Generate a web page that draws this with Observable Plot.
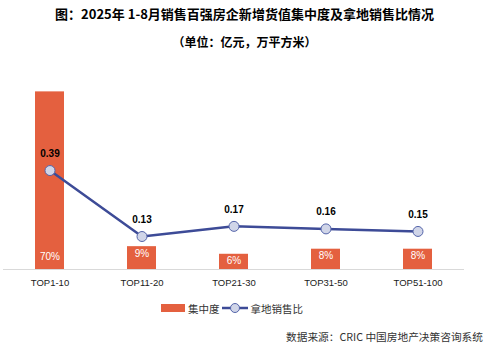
<!DOCTYPE html>
<html><head><meta charset="utf-8">
<script src="https://cdn.jsdelivr.net/npm/d3@7"></script>
<script src="https://cdn.jsdelivr.net/npm/@observablehq/plot@0.6"></script>
<style>
body{margin:0;background:#fff;width:489px;font-family:"Noto Sans CJK SC",sans-serif;}
.t1{height:28px;line-height:28px;text-align:center;font-weight:bold;font-size:13px;color:#000;}
.t2{height:28px;line-height:28px;text-align:center;font-weight:bold;font-size:12px;color:#000;}
#chart svg{display:block;}
.legend{height:26px;display:flex;align-items:center;padding-left:161px;font-size:10.5px;color:#333;}
.legend span{margin-right:2px;}
.src{height:32px;line-height:32px;text-align:right;padding-right:6px;font-size:10.7px;color:#333;}
</style></head>
<body>
<div class="t1">图：2025年 1-8月销售百强房企新增货值集中度及拿地销售比情况</div>
<div class="t2">（单位：亿元，万平方米）</div>
<div id="chart"></div>
<div class="legend">
<svg width="27" height="10"><rect x="0" y="1" width="24" height="8" fill="#E4603F"/></svg><span>集中度</span>
<svg width="29" height="12"><line x1="0" y1="6" x2="26" y2="6" stroke="#3D4B97" stroke-width="2.5"/><circle cx="13" cy="6" r="4.5" fill="#D0D5E8" stroke="#5565AA" stroke-width="1"/></svg><span>拿地销售比</span>
</div>
<div class="src">数据来源：CRIC 中国房地产决策咨询系统</div>
<script>
const categories = ["TOP1-10","TOP11-20","TOP21-30","TOP31-50","TOP51-100"];
const concentration = [70, 9, 6, 8, 8];          // 集中度 (%)
const landSalesRatio = [0.39, 0.13, 0.17, 0.16, 0.15]; // 拿地销售比
const barAxisMax = 80;     // primary axis max (%)
const lineAxisMax = 0.8;   // secondary axis max

const data = categories.map((c,i)=>({c, v: concentration[i], r: landSalesRatio[i]}));
const k = barAxisMax / lineAxisMax;
const fontLatin = "Liberation Sans, Arial, sans-serif";

const chart = Plot.plot({
  width: 489, height: 239,
  marginLeft: 3, marginRight: 25, marginTop: 10, marginBottom: 26,
  style: {fontFamily: fontLatin, background: "#fff"},
  x: {domain: categories, paddingInner: 0.686, paddingOuter: 0.343, label: null, tickSize: 0, tickPadding: 10},
  y: {domain: [0, barAxisMax], axis: null},
  marks: [
    Plot.barY(data, {x: "c", y: "v", fill: "#E4603F"}),
    Plot.ruleY([0], {stroke: "#D9D9D9", strokeWidth: 1}),
    Plot.axisX({tickSize: 0, tickPadding: 10, fontSize: 9.5, fill: "#1a1a1a", label: null}),
    Plot.text(data.filter(d => d.v > 20), {x: "c", y: 0, dy: -13, text: d => d.v + "%", fill: "#fff", fontSize: 10}),
    Plot.text(data.filter(d => d.v <= 20), {x: "c", y: "v", dy: 7, text: d => d.v + "%", fill: "#fff", fontSize: 10}),
    Plot.lineY(data, {x: "c", y: d => d.r * k, stroke: "#3D4B97", strokeWidth: 2.5}),
    Plot.dot(data, {x: "c", y: d => d.r * k, r: 5, fill: "#D0D5E8", stroke: "#5565AA", strokeWidth: 1}),
    Plot.text(data, {x: "c", y: d => d.r * k, dy: -17, text: d => d.r.toFixed(2), fill: "#000", fontSize: 10, fontWeight: "bold"})
  ]
});
document.getElementById("chart").append(chart);
</script>
</body></html>
